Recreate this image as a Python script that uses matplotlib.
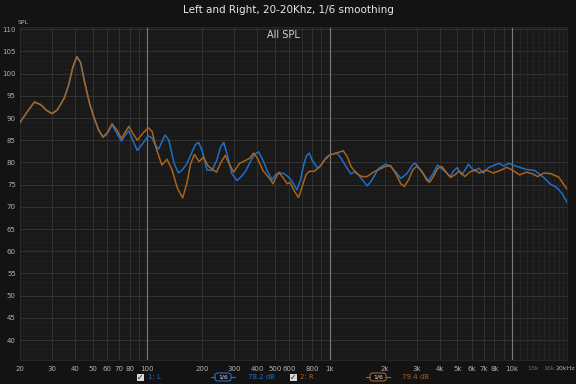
import numpy as np
import matplotlib.pyplot as plt
from matplotlib.patches import FancyBboxPatch, Rectangle
from matplotlib.transforms import ScaledTranslation

# ---------------------------------------------------------------
# data (freq in Hz, SPL in dB)
# ---------------------------------------------------------------
low_f = [20, 22, 24, 26, 28, 30, 32, 35, 37, 39, 41, 43, 45, 48, 51, 54, 57]
low_db = [89.0, 91.5, 93.6, 93.0, 91.7, 91.0, 91.8, 94.5, 97.5, 101.5, 103.8,
          102.5, 98.5, 93.5, 90.0, 87.3, 85.7]

r_f = low_f + [60, 64, 68, 72, 76, 79, 83, 88, 94, 101, 106, 112, 120, 128, 136,
               146, 156, 165, 172, 181, 192, 203, 215, 239, 253, 267, 280, 297,
               320, 344, 365, 382, 400, 430, 473, 488, 505, 525, 555, 584, 605,
               640, 674, 705, 740, 772, 820, 880, 940, 1000, 1100, 1188, 1250,
               1306, 1400, 1503, 1600, 1750, 1900, 2018, 2150, 2300, 2450, 2559,
               2700, 2850, 3006, 3200, 3400, 3525, 3700, 3900, 4113, 4350, 4600,
               4850, 5100, 5300, 5500, 5850, 6250, 6600, 7200, 7900, 8600, 9350,
               10000, 11000, 12000, 13000, 13800, 14900, 16200, 18000, 19000, 20000]
r_db = low_db + [86.6, 88.7, 87.3, 85.4, 87.0, 88.1, 86.6, 85.0, 86.5, 87.8, 87.0,
                 83.0, 79.4, 80.7, 78.5, 74.2, 72.0, 75.5, 79.5, 81.8, 80.2, 81.2,
                 79.2, 77.8, 80.0, 81.6, 79.8, 77.8, 79.8, 80.4, 81.0, 82.1, 81.0,
                 78.2, 76.1, 75.2, 76.5, 77.8, 76.5, 75.2, 75.5, 73.5, 72.1, 74.5,
                 77.2, 78.0, 78.0, 79.0, 80.6, 81.7, 82.2, 82.6, 81.2, 79.1, 77.5,
                 76.8, 76.8, 77.9, 78.6, 79.1, 79.3, 77.5, 75.2, 74.6, 76.0, 78.3,
                 79.2, 78.0, 76.0, 75.5, 76.8, 78.6, 79.1, 77.8, 76.6, 77.2, 78.0,
                 77.6, 76.8, 77.8, 78.4, 77.6, 78.3, 77.6, 78.2, 78.9, 78.3, 77.2,
                 77.8, 77.4, 76.8, 77.6, 77.5, 76.7, 75.3, 74.0]

l_f = low_f + [60, 64, 68, 72, 76, 79, 83, 88, 94, 101, 106, 110, 115, 120, 125,
               131, 140, 148, 156, 165, 172, 183, 191, 200, 212, 226, 240, 252,
               262, 275, 290, 310, 330, 345, 365, 385, 407, 430, 455, 483, 505,
               530, 560, 590, 620, 661, 690, 720, 745, 772, 800, 857, 900, 950,
               1000, 1094, 1150, 1230, 1306, 1380, 1450, 1605, 1700, 1850, 2018,
               2150, 2300, 2455, 2650, 2850, 2943, 3150, 3480, 3700, 3896, 4200,
               4565, 4800, 5000, 5280, 5500, 5760, 6200, 6570, 6960, 7400, 7900,
               8500, 9000, 9560, 10600, 12000, 13300, 14900, 16100, 17500, 18800,
               20000]
l_db = low_db + [86.4, 88.5, 86.5, 84.8, 86.3, 87.1, 85.0, 82.7, 84.2, 86.0, 85.5,
                 84.0, 83.0, 84.6, 86.2, 85.0, 79.8, 77.6, 78.4, 79.8, 81.5, 84.0,
                 84.5, 82.5, 78.3, 78.2, 80.5, 83.5, 84.5, 81.5, 77.5, 75.9, 77.0,
                 78.0, 80.0, 81.8, 82.4, 80.5, 78.0, 76.1, 77.3, 77.6, 77.5, 76.8,
                 75.8, 73.8, 76.0, 79.5, 81.5, 82.1, 80.5, 78.7, 79.5, 81.0, 81.7,
                 82.1, 81.0, 79.0, 77.4, 78.0, 77.0, 74.7, 76.0, 78.6, 79.6, 79.2,
                 77.8, 76.4, 77.5, 79.5, 79.8, 78.2, 75.9, 77.6, 79.4, 78.3, 76.8,
                 78.2, 78.8, 77.2, 78.2, 79.6, 78.0, 78.7, 77.6, 78.8, 79.3, 79.8,
                 79.2, 79.8, 79.1, 78.4, 78.2, 76.6, 75.2, 74.4, 73.0, 71.0]

x_ticks = [20, 30, 40, 50, 60, 70, 80, 100, 200, 300, 400, 500, 600, 800, 1000,
           2000, 3000, 4000, 5000, 6000, 7000, 8000, 10000, 13000, 16000, 20000]
x_labels = ['20', '30', '40', '50', '60', '70', '80', '100', '200', '300', '400',
            '500', '600', '800', '1k', '2k', '3k', '4k', '5k', '6k', '7k', '8k',
            '10k', '13k', '16k', '20kHz']
y_ticks = list(range(40, 111, 5))

BLUE = '#1f6fc6'
ORANGE = '#a8631f'
BG = '#131313'
AX_BG = '#191919'

fig = plt.figure(figsize=(5.76, 3.84), dpi=100, facecolor=BG)
ax = fig.add_axes([20 / 576, 1 - 360 / 384, 547 / 576, 333 / 384])
ax.set_facecolor(AX_BG)
ax.set_xscale('log')
ax.set_xlim(20, 20000)
ax.set_ylim(35.5, 110.5)

# grid
for d in range(36, 111):
    if d % 5 == 0:
        ax.axhline(d, color='#383838', lw=0.6, zorder=1)
    else:
        ax.axhline(d, color='#1f1f1f', lw=0.5, zorder=1)
vlines = [m * 10 ** e for e in (1, 2, 3) for m in range(2, 11)]
vlines += list(range(11000, 20001, 1000))
for v in vlines:
    if v in (100, 1000, 10000):
        ax.axvline(v, color='#7a7a7a', lw=0.8, zorder=1)
    elif v > 10000:
        ax.axvline(v, color='#2a2a2a', lw=0.5, zorder=1)
    else:
        ax.axvline(v, color='#353535', lw=0.6, zorder=1)

ax.plot(l_f, l_db, color=BLUE, lw=1.1, zorder=3, solid_joinstyle='round')
ax.plot(r_f, r_db, color=ORANGE, lw=1.1, zorder=4, solid_joinstyle='round')

for s in ax.spines.values():
    s.set_color('#2a2a2a')
    s.set_linewidth(0.6)

ax.set_xticks(x_ticks)
ax.set_xticklabels(x_labels)
ax.xaxis.set_minor_locator(plt.NullLocator())
ax.set_yticks(y_ticks)
ax.tick_params(axis='both', length=0, labelsize=5, colors='#b0b0b0')
ax.tick_params(axis='x', pad=4)
ax.tick_params(axis='y', pad=3)
for lbl in ax.get_xticklabels():
    if lbl.get_text() in ('13k', '16k'):
        lbl.set_color('#6a6a6a')
        lbl.set_fontsize(4.5)
    if lbl.get_text() == '20kHz':
        lbl.set_fontsize(4.5)
        lbl.set_horizontalalignment('right')
        lbl.set_transform(lbl.get_transform() +
                          ScaledTranslation(8.5 / 100, 0, fig.dpi_scale_trans))

fig.text(288 / 576, 1 - 10 / 384, 'Left and Right, 20-20Khz, 1/6 smoothing',
         ha='center', va='center', color='#e6e6e6', fontsize=7.5)
fig.text(283 / 576, 1 - 35 / 384, 'All SPL', ha='center', va='center',
         color='#d0d0d0', fontsize=7)
fig.text(23 / 576, 1 - 22 / 384, 'SPL', ha='center', va='center',
         color='#b0b0b0', fontsize=4.5)


# legend strip at the bottom
def checkbox(x, y):
    fig.patches.append(Rectangle((x / 576, 1 - (y + 4) / 384), 7 / 576, 7 / 384,
                                 transform=fig.transFigure, facecolor='#d8d8d8',
                                 edgecolor='none'))
    fig.text((x + 3.5) / 576, 1 - (y + 0.5) / 384, '\u2713', ha='center',
             va='center', fontsize=5.5, color='#222222')


def smooth_box(x, y, color):
    fig.patches.append(FancyBboxPatch(((x - 8) / 576, 1 - (y + 4) / 384),
                                      16 / 576, 8 / 384,
                                      boxstyle='round,pad=0,rounding_size=0.006',
                                      transform=fig.transFigure,
                                      facecolor='#101010', edgecolor=color, lw=0.8))
    fig.add_artist(plt.Line2D([(x - 12) / 576, (x - 8) / 576],
                              [1 - y / 384] * 2, color=color, lw=0.8))
    fig.add_artist(plt.Line2D([(x + 8) / 576, (x + 12) / 576],
                              [1 - y / 384] * 2, color=color, lw=0.8))
    fig.text(x / 576, 1 - y / 384, '1/6', ha='center', va='center',
             fontsize=4.5, color='#dddddd')


ly = 377
checkbox(137, ly)
fig.text(148 / 576, 1 - ly / 384, '1: L', ha='left', va='center', fontsize=5, color=BLUE)
smooth_box(223, ly, BLUE)
fig.text(262 / 576, 1 - ly / 384, '78.2 dB', ha='center', va='center', fontsize=5,
         color=BLUE)
checkbox(290, ly)
fig.text(300 / 576, 1 - ly / 384, '2: R', ha='left', va='center', fontsize=5,
         color=ORANGE)
smooth_box(378, ly, ORANGE)
fig.text(416 / 576, 1 - ly / 384, '79.4 dB', ha='center', va='center', fontsize=5,
         color=ORANGE)

fig.savefig('out.png', dpi=100, facecolor=BG)
